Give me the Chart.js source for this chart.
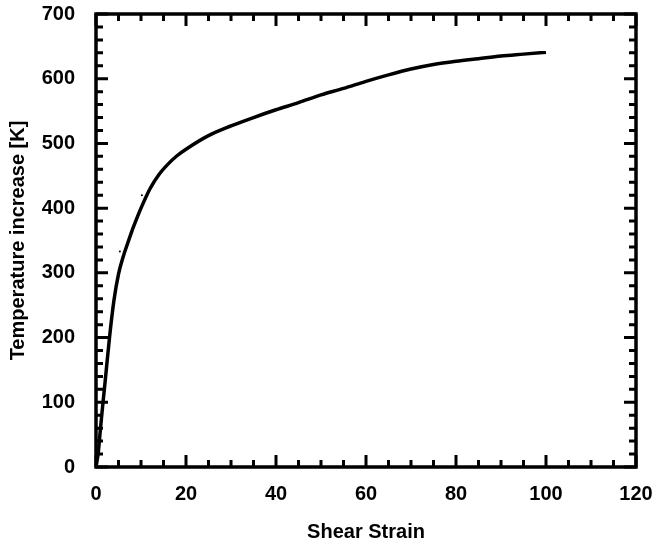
<!DOCTYPE html>
<html>
<head>
<meta charset="utf-8">
<script src="https://cdn.jsdelivr.net/npm/chart.js@4.4.0/dist/chart.umd.min.js"></script>
<style>
  body { margin: 0; background: #fff; }
  #wrap { width: 655px; height: 545px; }
</style>
</head>
<body>
<div id="wrap"><canvas id="heatChart" width="655" height="545"></canvas></div>
<script>
// --- Datos ---
const strain = [0, 0.5, 1, 1.5, 2, 3, 4, 5, 6, 7, 8, 9, 10, 12, 14, 16, 18, 20,
    25, 30, 35, 40, 45, 50, 55, 60, 65, 70, 75, 80, 85, 90, 95, 100];
const tempRise = [0, 22, 60, 96, 130, 200, 258, 298, 324, 345, 365, 383, 400, 430, 452, 468, 481, 491,
    512, 527, 540, 552, 563, 575, 585, 596, 606, 615, 622, 627, 631, 635, 638, 641];

// puntos sueltos cerca de la curva
const strayStrain = [5.3, 10.2];
const strayTemp = [333, 420];

const xTicks = [0, 20, 40, 60, 80, 100, 120];
const yTicks = [0, 100, 200, 300, 400, 500, 600, 700];
const xMinorStep = 5;
const yMinorStep = 20;

const labelFont = { family: "'Liberation Sans', Arial, sans-serif", size: 20, weight: 'bold', lineHeight: 1.2 };

// --- Marco y marcas hacia dentro en los cuatro lados ---
const frameTicks = {
    id: 'frameTicks',
    afterDatasetsDraw(chart) {
        const { ctx, chartArea: a, scales: { x, y } } = chart;
        const major = 12, minor = 7;
        ctx.save();
        ctx.strokeStyle = '#000';
        ctx.lineWidth = 3;
        ctx.lineCap = 'butt';
        ctx.beginPath();

        for (let v = xTicks[0]; v <= xTicks[xTicks.length - 1]; v += xMinorStep) {
            const px = x.getPixelForValue(v);
            const len = xTicks.includes(v) ? major : minor;
            ctx.moveTo(px, a.bottom); ctx.lineTo(px, a.bottom - len);
            ctx.moveTo(px, a.top); ctx.lineTo(px, a.top + len);
        }
        for (let v = yTicks[0]; v <= yTicks[yTicks.length - 1]; v += yMinorStep) {
            const py = y.getPixelForValue(v);
            const len = yTicks.includes(v) ? major : minor;
            ctx.moveTo(a.left, py); ctx.lineTo(a.left + len, py);
            ctx.moveTo(a.right, py); ctx.lineTo(a.right - len, py);
        }
        ctx.stroke();

        ctx.lineWidth = 3.5;
        ctx.strokeRect(a.left, a.top, a.right - a.left, a.bottom - a.top);
        ctx.restore();
    }
};

new Chart(document.getElementById('heatChart'), {
    type: 'line',
    data: {
        datasets: [{
            data: strain.map((s, i) => ({ x: s, y: tempRise[i] })),
            borderColor: '#000',
            borderWidth: 3.5,
            pointRadius: 0,
            fill: false,
            cubicInterpolationMode: 'monotone'
        }, {
            data: strayStrain.map((s, i) => ({ x: s, y: strayTemp[i] })),
            showLine: false,
            pointRadius: 1,
            pointBackgroundColor: '#000',
            pointBorderWidth: 0
        }]
    },
    options: {
        responsive: false,
        animation: false,
        layout: { padding: { left: 0, top: 14, right: 19, bottom: 0 } },
        plugins: { legend: { display: false }, tooltip: { enabled: false } },
        scales: {
            x: {
                type: 'linear',
                min: 0, max: 120,
                grid: { display: false },
                border: { display: false },
                afterFit(scale) {
                    scale.height = 78;
                    scale.paddingLeft = 0;
                    scale.paddingRight = 0;
                },
                ticks: { stepSize: 20, color: '#000', font: labelFont, padding: 7, maxRotation: 0 },
                title: { display: true, text: 'Shear Strain', color: '#000', font: labelFont, padding: { top: 0, bottom: 1 } }
            },
            y: {
                min: 0, max: 700,
                grid: { display: false },
                border: { display: false },
                afterFit(scale) {
                    scale.width = 96;
                    scale.paddingTop = 0;
                    scale.paddingBottom = 0;
                },
                ticks: { stepSize: 100, color: '#000', font: labelFont, padding: 13 },
                title: { display: true, text: 'Temperature increase [K]', color: '#000', font: labelFont, padding: { top: 6, bottom: 0 } }
            }
        }
    },
    plugins: [frameTicks]
});
</script>
</body>
</html>
